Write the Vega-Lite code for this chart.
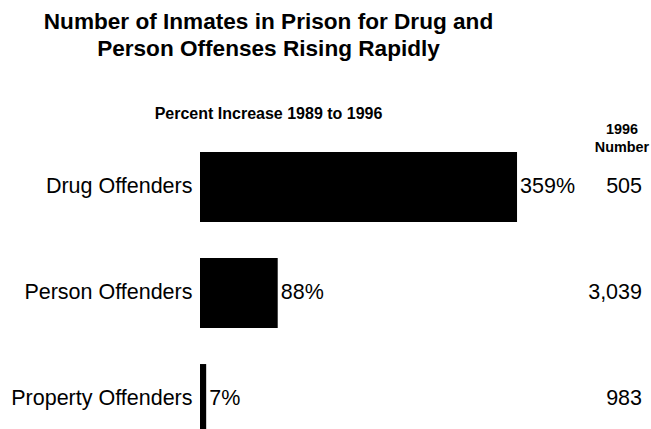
{
  "$schema": "https://vega.github.io/schema/vega-lite/v6.json",
  "width": 451,
  "height": 300,
  "padding": {"left": 10, "top": 11, "right": 0, "bottom": 0},
  "background": "white",
  "config": {"view": {"stroke": null}, "font": "Liberation Sans"},
  "title": {
    "text": ["Number of Inmates in Prison for Drug and", "Person Offenses Rising Rapidly"],
    "subtitle": "Percent Increase 1989 to 1996",
    "fontSize": 22.6,
    "fontWeight": "bold",
    "lineHeight": 27,
    "color": "black",
    "subtitleFontSize": 16,
    "subtitleFontWeight": "bold",
    "subtitleColor": "black",
    "subtitleFont": "Liberation Sans",
    "font": "Liberation Sans",
    "subtitlePadding": 45,
    "anchor": "middle",
    "frame": "group",
    "dx": -157,
    "offset": 0
  },
  "datasets": {
    "offenses": [
      {"category": "Drug Offenders", "pct": 359, "label": "359%", "number": 505},
      {"category": "Person Offenders", "pct": 88, "label": "88%", "number": 3039},
      {"category": "Property Offenders", "pct": 7, "label": "7%", "number": 983}
    ]
  },
  "layer": [
    {
      "data": {"name": "offenses"},
      "mark": {"type": "bar", "color": "black"},
      "encoding": {
        "y": {
          "field": "category", "type": "nominal", "sort": null,
          "scale": {"paddingInner": 0.34, "paddingOuter": 0.085, "align": 1},
          "axis": {"title": null, "domain": false, "ticks": false, "labelFontSize": 21.5, "labelColor": "black", "labelPadding": 8, "labelLimit": 0, "labelFont": "Liberation Sans"}
        },
        "x": {"field": "pct", "type": "quantitative", "scale": {"domain": [0, 510.7], "nice": false}, "axis": null}
      }
    },
    {
      "data": {"name": "offenses"},
      "mark": {"type": "text", "align": "left", "baseline": "middle", "dx": 3, "fontSize": 21.5, "color": "black"},
      "encoding": {
        "y": {"field": "category", "type": "nominal", "sort": null},
        "x": {"field": "pct", "type": "quantitative"},
        "text": {"field": "label"}
      }
    },
    {
      "data": {"name": "offenses"},
      "mark": {"type": "text", "align": "right", "baseline": "middle", "dx": -9, "fontSize": 21.5, "color": "black"},
      "encoding": {
        "y": {"field": "category", "type": "nominal", "sort": null},
        "x": {"value": "width"},
        "text": {"field": "number", "type": "quantitative", "format": ","}
      }
    },
    {
      "data": {"values": [{"head": "1996 Number"}]},
      "mark": {"type": "text", "align": "center", "baseline": "top", "dx": -29, "dy": -11, "fontSize": 14.4, "fontWeight": "bold", "lineHeight": 18, "color": "black", "text": ["1996", "Number"]},
      "encoding": {
        "x": {"value": "width"},
        "y": {"value": 0}
      }
    }
  ]
}
